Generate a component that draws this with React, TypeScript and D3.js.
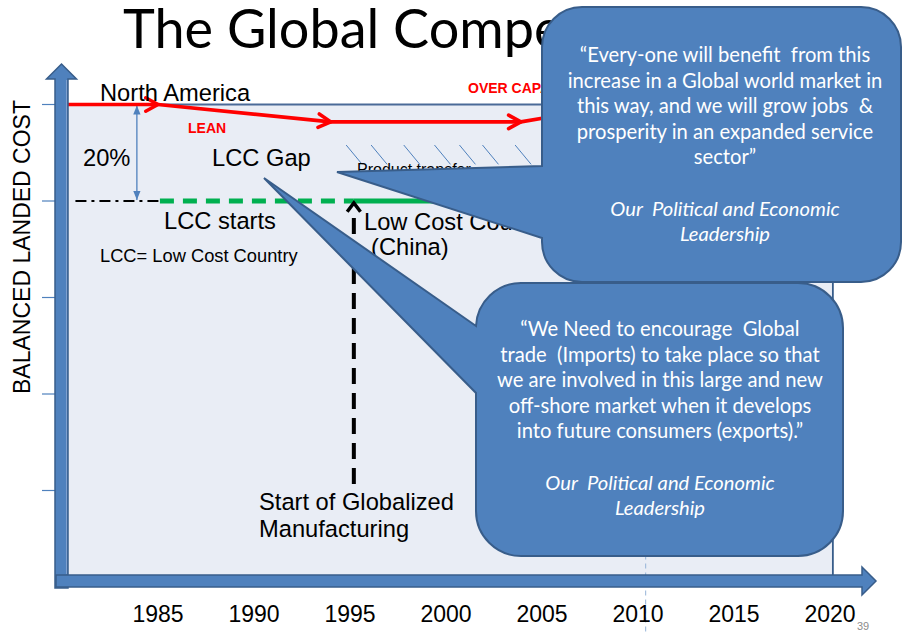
import React from "react";
import * as d3 from "d3";

// ---------- data ----------
const yearTicks = [1985, 1990, 1995, 2000, 2005, 2010, 2015, 2020];
const costTicks = [100, 80, 60, 40, 20];
// North America balanced landed cost (red path)
const naYears = [1980.2, 1985.0, 1994.0, 2003.9, 2005.4];
const naCost = [100, 100, 96.4, 96.4, 97.4];
const naArrowIdx = [1, 2, 3];
// Low cost country level
const lccCost = 80;
const lccLeadYears = [1980.7, 1985.1];
const lccDashYears = [1985.1, 1995.2];
const lccSolidYears = [1995.2, 2006];
// start of globalized manufacturing
const globalYear = 1995.2;
const globalCost = [80, 20.5];
// 20% gap marker
const gapYear = 1983.9;
const gapCost = [100, 80];
// product transfer hatch
const hatchYears = [1994.8, 1996.1, 1997.8, 1999.4, 2000.7, 2001.9, 2003.6];
const hatchCost = [91.6, 87.6];
const markerYear = 2010.4;

const NB = "\u00A0";
const quote1 = [
  `\u201CEvery-one will benefit ${NB}from this`,
  "increase in a Global world market in",
  `this way, and we will grow jobs ${NB}&`,
  "prosperity in an expanded service",
  "sector\u201D",
];
const quote2 = [
  `\u201CWe Need to encourage ${NB}Global`,
  `trade ${NB}(Imports) to take place so that`,
  "we are involved in this large and new",
  "off-shore market when it develops",
  "into future consumers (exports).\u201D",
];
const attribution = [`Our ${NB}Political and Economic`, "Leadership"];

// ---------- layout ----------
const W = 903;
const H = 634;
const x = d3.scaleLinear().domain([1980, 2020]).range([62, 830]);
const y = d3.scaleLinear().domain([0, 100]).range([587, 104.5]);

const BLUE = "#4F81BD";
const BLUE_DARK = "#385D8A";
const BG = "#E9EDF5";
const ARIAL = "'Liberation Sans', Arial, sans-serif";
const CAL = "Lato, 'Open Sans', sans-serif";
const BIG = 23.7;

function chevron(px: number, py: number, theta: number, L: number, a: number) {
  const p1 = [px - L * Math.cos(theta - a), py - L * Math.sin(theta - a)];
  const p2 = [px - L * Math.cos(theta + a), py - L * Math.sin(theta + a)];
  return `M${p1[0]},${p1[1]} L${px},${py} L${p2[0]},${p2[1]}`;
}

function calloutPath(
  x0: number, y0: number, x1: number, y1: number, r: number,
  tipX: number, tipY: number, attachTop: number, attachBot: number
) {
  return [
    `M${x0 + r},${y0}`,
    `H${x1 - r}`,
    `A${r},${r} 0 0 1 ${x1},${y0 + r}`,
    `V${y1 - r}`,
    `A${r},${r} 0 0 1 ${x1 - r},${y1}`,
    `H${x0 + r}`,
    `A${r},${r} 0 0 1 ${x0},${y1 - r}`,
    `V${attachBot}`,
    `L${tipX},${tipY}`,
    `L${x0},${attachTop}`,
    `V${Math.min(attachTop, y0 + r)}`,
    `A${r},${r} 0 0 1 ${x0 + r},${y0}`,
    "Z",
  ].join(" ");
}

export default function App() {
  const naPts = naYears.map((yr, i) => [x(yr), y(naCost[i])] as [number, number]);
  const line = d3.line<[number, number]>();

  const plotL = 68;
  const plotR = x(2020.15);
  const plotT = y(100);
  const plotB = 576;

  return (
    <svg
      width={W}
      height={H}
      viewBox={`0 0 ${W} ${H}`}
      style={{ position: "absolute", left: 0, top: 0, background: "#fff" }}
    >
      <defs>
        <marker id="gapHead" viewBox="0 0 10 10" refX="10" refY="5" markerWidth="7" markerHeight="7" orient="auto-start-reverse">
          <path d="M0,1 L10,5 L0,9 Z" fill={BLUE} />
        </marker>
      </defs>

      {/* title */}
      <text x={123} y={48} fontFamily={CAL} fontSize={54} fill="#000">
        The Global Competition
      </text>

      {/* plot background */}
      <rect x={plotL} y={plotT} width={plotR - plotL} height={plotB - plotT} fill={BG} />
      <line x1={plotL} x2={plotR} y1={plotT} y2={plotT} stroke="#4A6A98" strokeWidth={2} />
      <line x1={plotR} x2={plotR} y1={plotT} y2={plotB} stroke={BLUE_DARK} strokeWidth={1.8} />

      {/* y ticks */}
      {costTicks.map((c) => (
        <line key={c} x1={42} x2={60} y1={y(c)} y2={y(c)} stroke={BLUE} strokeWidth={1.2} />
      ))}

      {/* reference dashed line */}
      <line x1={x(markerYear)} x2={x(markerYear)} y1={plotT} y2={H} stroke="#95B3D7" strokeWidth={1} strokeDasharray="5,4" />

      {/* hatch: product transfer */}
      {hatchYears.map((yr) => (
        <line
          key={yr}
          x1={x(yr)}
          y1={y(hatchCost[0])}
          x2={x(yr) + 16}
          y2={y(hatchCost[1])}
          stroke={BLUE}
          strokeWidth={1}
        />
      ))}
      <text x={357} y={175} fontFamily={ARIAL} fontSize={16} fill="#000">Product transfer</text>

      {/* LCC level lines */}
      <line x1={x(lccLeadYears[0])} x2={x(lccLeadYears[1])} y1={y(lccCost)} y2={y(lccCost)} stroke="#000" strokeWidth={2.2} strokeDasharray="11,5,3,5" />
      <line x1={x(lccDashYears[0])} x2={x(lccDashYears[1])} y1={y(lccCost)} y2={y(lccCost)} stroke="#00B050" strokeWidth={5} strokeDasharray="14,9" />
      <line x1={x(lccSolidYears[0])} x2={x(lccSolidYears[1])} y1={y(lccCost)} y2={y(lccCost)} stroke="#00B050" strokeWidth={5} />

      {/* 20% gap arrow */}
      <line
        x1={x(gapYear)} x2={x(gapYear)}
        y1={y(gapCost[0]) + 1} y2={y(gapCost[1]) - 1}
        stroke={BLUE} strokeWidth={1.3}
        markerStart="url(#gapHead)" markerEnd="url(#gapHead)"
      />

      {/* start of globalized manufacturing arrow */}
      <line
        x1={x(globalYear)} x2={x(globalYear)}
        y1={y(globalCost[0]) + 17} y2={y(globalCost[1])}
        stroke="#000" strokeWidth={4} strokeDasharray="16,9"
      />
      <path
        d={chevron(x(globalYear), y(globalCost[0]) + 2, -Math.PI / 2, 11, 0.65)}
        fill="none" stroke="#000" strokeWidth={3.5}
      />

      {/* North America red line */}
      <path d={line(naPts) || ""} fill="none" stroke="#FF0000" strokeWidth={3.6} strokeLinejoin="round" />
      {naArrowIdx.map((i) => {
        const [px, py] = naPts[i];
        const [qx, qy] = naPts[i - 1];
        const th = Math.atan2(py - qy, px - qx);
        return (
          <path key={i} d={chevron(px, py, th, 14, 0.5)} fill="none" stroke="#FF0000" strokeWidth={3.6} strokeLinecap="round" strokeLinejoin="round" />
        );
      })}

      {/* labels */}
      <g fontFamily={ARIAL} fill="#000">
        <text x={100} y={101} fontSize={BIG}>North America</text>
        <text x={188} y={133} fontSize={14} fontWeight="bold" fill="#FF0000">LEAN</text>
        <text x={468} y={93} fontSize={14} fontWeight="bold" fill="#FF0000">OVER CAPACITY</text>
        <text x={83} y={166} fontSize={BIG}>20%</text>
        <text x={212} y={166} fontSize={BIG}>LCC Gap</text>
        <text x={164} y={229} fontSize={BIG}>LCC starts</text>
        <text x={100} y={262} fontSize={18.3}>LCC= Low Cost Country</text>
        <text x={364} y={230} fontSize={BIG}>Low Cost Country</text>
        <text x={371} y={255} fontSize={BIG}>(China)</text>
        <text x={259} y={510} fontSize={BIG}>Start of Globalized</text>
        <text x={259} y={537} fontSize={BIG}>Manufacturing</text>
      </g>

      {/* y axis arrow */}
      <path d="M55,588 V79 H46.5 L61.5,64 L76.5,79 H68 V588 Z" fill={BLUE} stroke={BLUE_DARK} strokeWidth={1.5} />
      <line x1={66.5} x2={66.5} y1={80} y2={574} stroke="#7FA0CF" strokeWidth={1} />
      {/* x axis arrow */}
      <path d="M56,575 H862 V567 L876,581 L862,595 V587 H56 Z" fill={BLUE} stroke={BLUE_DARK} strokeWidth={1.5} />

      {/* axis label */}
      <text
        transform={`translate(30,${247}) rotate(-90)`}
        textAnchor="middle"
        fontFamily={ARIAL}
        fontSize={23}
        fill="#000"
      >
        BALANCED LANDED COST
      </text>

      {/* x tick labels */}
      {yearTicks.map((yr) => (
        <text key={yr} x={x(yr)} y={622} textAnchor="middle" fontFamily={ARIAL} fontSize={23} fill="#000">
          {yr}
        </text>
      ))}
      <text x={857} y={630} fontFamily={ARIAL} fontSize={11} fill="#8C8C8C">39</text>

      {/* callout 1 */}
      <path d={calloutPath(542, 7, 901, 282, 40, 337, 172, 166, 238)} fill={BLUE} stroke={BLUE_DARK} strokeWidth={2} />
      <g fontFamily={CAL} fontSize={20.2} fill="#fff" textAnchor="middle">
        {quote1.map((t, i) => (
          <text key={t} x={725} y={62 + i * 25.5}>{t}</text>
        ))}
        {attribution.map((t, i) => (
          <text key={t} x={725} y={215.5 + i * 25.5} fontStyle="italic">{t}</text>
        ))}
      </g>

      {/* callout 2 */}
      <path d={calloutPath(476, 283, 843, 556, 45, 264, 178, 326, 393)} fill={BLUE} stroke={BLUE_DARK} strokeWidth={2} />
      <g fontFamily={CAL} fontSize={20.2} fill="#fff" textAnchor="middle">
        {quote2.map((t, i) => (
          <text key={t} x={660} y={336 + i * 25.5}>{t}</text>
        ))}
        {attribution.map((t, i) => (
          <text key={t} x={660} y={489.5 + i * 25.5} fontStyle="italic">{t}</text>
        ))}
      </g>
    </svg>
  );
}
